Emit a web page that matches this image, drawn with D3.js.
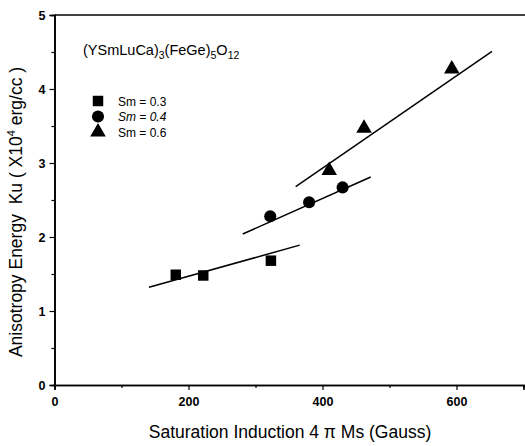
<!DOCTYPE html>
<html><head><meta charset="utf-8">
<script src="https://cdn.jsdelivr.net/npm/d3@7"></script>
<style>body{margin:0;background:#fff}svg{display:block}text{font-family:"Liberation Sans",Arial,sans-serif;fill:#000}</style>
</head><body><svg id="c" width="525" height="446"></svg>
<script>
const sq_x = [181, 222, 323];
const sq_y = [1.49, 1.48, 1.68];
const ci_x = [322, 380, 430];
const ci_y = [2.28, 2.47, 2.67];
const tr_x = [410, 462, 593];
const tr_y = [2.9, 3.47, 4.27];
const fitSq = [[141, 1.32], [366, 1.89]];
const fitCi = [[281, 2.04], [472, 2.81]];
const fitTr = [[360, 2.68], [653, 4.51]];
const xTicks = [0, 200, 400, 600];
const yTicks = [0, 1, 2, 3, 4, 5];
const legendLabels = ["Sm = 0.3", "Sm = 0.4", "Sm = 0.6"];

const svg = d3.select("#c");
const x = d3.scaleLinear().domain([0, 700]).range([54.5, 523.5]);
const y = d3.scaleLinear().domain([0, 5]).range([385, 15]);
const fmt = d3.format("d");

// axes
svg.append("g").attr("transform", `translate(0,${y(0)})`)
  .call(d3.axisBottom(x).tickValues(xTicks).tickFormat(fmt).tickSize(5).tickPadding(7));
svg.append("g").attr("transform", `translate(0,${y(0)})`)
  .call(d3.axisBottom(x).tickValues([100,300,500,700]).tickSize(3).tickFormat(""));
svg.append("g").attr("transform", `translate(${x(0)},0)`)
  .call(d3.axisLeft(y).tickValues(yTicks).tickFormat(fmt).tickSize(5).tickPadding(4));
svg.append("g").attr("transform", `translate(${x(0)},0)`)
  .call(d3.axisLeft(y).tickValues([0.5,1.5,2.5,3.5,4.5]).tickSize(3).tickFormat(""));
svg.selectAll(".domain").attr("stroke-width", 1.6);
svg.selectAll(".tick line").attr("stroke-width", 1.2);
svg.selectAll(".tick text").style("font-size", "12.5px").style("font-weight", "bold");
// top border
svg.append("line").attr("x1", x(0)).attr("x2", 525).attr("y1", y(5)).attr("y2", y(5))
  .attr("stroke", "#000").attr("stroke-width", 1.6);

// fit lines
const line = d3.line().x(d => x(d[0])).y(d => y(d[1]));
[fitSq, fitCi, fitTr].forEach(f => svg.append("path").attr("d", line(f))
  .attr("fill", "none").attr("stroke", "#000").attr("stroke-width", 1.5));

// markers
const sqSym = d3.symbol().type(d3.symbolSquare).size(110);
const ciSym = d3.symbol().type(d3.symbolCircle).size(115);
const trSym = d3.symbol().type(d3.symbolTriangle).size(105);
function pts(xs, ys, sym) {
  svg.append("g").selectAll("path").data(xs.map((v, i) => [v, ys[i]])).join("path")
    .attr("d", sym).attr("transform", d => `translate(${x(d[0])},${y(d[1])})`).attr("fill", "#000");
}
pts(sq_x, sq_y, sqSym);
pts(ci_x, ci_y, ciSym);
pts(tr_x, tr_y, trSym);

// title
const t = svg.append("text").attr("x", 83).attr("y", 55).style("font-size", "14.5px");
t.append("tspan").text("(YSmLuCa)");
t.append("tspan").attr("dy", 4).style("font-size", "10.5px").text("3");
t.append("tspan").attr("dy", -4).text("(FeGe)");
t.append("tspan").attr("dy", 4).style("font-size", "10.5px").text("5");
t.append("tspan").attr("dy", -4).text("O");
t.append("tspan").attr("dy", 4).style("font-size", "10.5px").text("12");

// legend
const syms = [sqSym, ciSym, trSym];
legendLabels.forEach((lab, i) => {
  const ly = 101 + i * 15.5;
  svg.append("path").attr("d", syms[i]).attr("transform", `translate(98,${ly})`).attr("fill", "#000");
  svg.append("text").attr("x", 118).attr("y", ly + 4.5).style("font-size", "12px")
    .style("font-style", i === 1 ? "italic" : "normal").text(lab);
});

// axis labels
svg.append("text").attr("x", 290).attr("y", 438).attr("text-anchor", "middle")
  .style("font-size", "17.5px").text("Saturation Induction 4 π Ms (Gauss)");
const yl = svg.append("text").attr("transform", "translate(22,212) rotate(-90)")
  .attr("text-anchor", "middle").style("font-size", "17.5px").style("white-space", "pre");
yl.append("tspan").text("Anisotropy Energy\u00a0 Ku ( X10");
yl.append("tspan").attr("dy", -7).style("font-size", "11px").text("4");
yl.append("tspan").attr("dy", 7).text(" erg/cc )");
</script></body></html>
